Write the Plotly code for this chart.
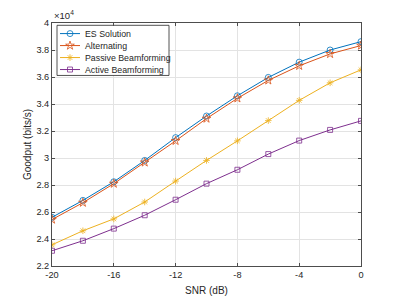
import plotly.graph_objects as go

snr = [-20, -18, -16, -14, -12, -10, -8, -6, -4, -2, 0]
es_solution = [2.561, 2.686, 2.824, 2.982, 3.151, 3.311, 3.461, 3.597, 3.71, 3.80, 3.862]
alternating = [2.544, 2.669, 2.81, 2.967, 3.127, 3.292, 3.442, 3.575, 3.683, 3.771, 3.833]
passive_bf = [2.357, 2.461, 2.549, 2.674, 2.829, 2.982, 3.127, 3.277, 3.427, 3.557, 3.653]
active_bf = [2.313, 2.387, 2.477, 2.576, 2.691, 2.810, 2.913, 3.029, 3.129, 3.208, 3.275]

series_names = ["ES Solution", "Alternating", "Passive Beamforming", "Active Beamforming"]
series_values = [es_solution, alternating, passive_bf, active_bf]

x_ticks = [-20, -16, -12, -8, -4, 0]
y_ticks = [2.2, 2.4, 2.6, 2.8, 3.0, 3.2, 3.4, 3.6, 3.8, 4.0]
y_tick_labels = ["2.2", "2.4", "2.6", "2.8", "3", "3.2", "3.4", "3.6", "3.8", "4"]

colors = ["#0072BD", "#D95319", "#EDB120", "#7E2F8E"]
symbols = ["circle-open", "star-open", "asterisk-open", "square-open"]
sizes = [6, 6.5, 5.5, 5]

# figure geometry (px); page body has an 8px margin, so compensate
W, H = 391, 291
L, R, T, B = 44, 38, 14.7, 33
PW, PH = W - L - R, H - T - B

font = "Liberation Sans, Arial, sans-serif"

fig = go.Figure()
for name, vals, color, sym, size in zip(series_names, series_values, colors, symbols, sizes):
    fig.add_trace(go.Scatter(
        x=snr, y=vals, name=name, mode="lines+markers",
        line=dict(color=color, width=1),
        marker=dict(symbol=sym, size=size, color=color, line=dict(color=color, width=0.8)),
        showlegend=False,
    ))

# custom compact legend, laid out in plot-pixel coordinates on an overlay axis pair
bx0, bx1, by0, by1 = 5, 117, 2.3, 52.5
fig.add_trace(go.Scatter(
    x=[bx0, bx1, bx1, bx0, bx0], y=[by0, by0, by1, by1, by0], mode="lines",
    fill="toself", fillcolor="white", line=dict(color="#262626", width=0.8),
    xaxis="x2", yaxis="y2", showlegend=False, hoverinfo="skip"))

row_gap = 12
row_first = 10.6
for i, (name, color, sym, size) in enumerate(zip(series_names, colors, symbols, sizes)):
    ry = row_first + i * row_gap
    fig.add_trace(go.Scatter(
        x=[8, 28], y=[ry, ry], mode="lines", line=dict(color=color, width=1),
        xaxis="x2", yaxis="y2", showlegend=False, hoverinfo="skip"))
    fig.add_trace(go.Scatter(
        x=[18], y=[ry], mode="markers",
        marker=dict(symbol=sym, size=size, color=color, line=dict(color=color, width=0.8)),
        xaxis="x2", yaxis="y2", showlegend=False, hoverinfo="skip"))
    fig.add_annotation(text=name, x=31 / PW, y=1 - ry / PH, xref="paper", yref="paper",
                       xanchor="left", yanchor="middle", showarrow=False,
                       font=dict(family=font, size=8.8, color="#262626"))

axis_common = dict(
    showline=True, linecolor="#4d4d4d", linewidth=1, mirror="ticks",
    ticks="inside", ticklen=3, tickcolor="#4d4d4d",
    showgrid=True, gridcolor="#E3E3E3", gridwidth=1, zeroline=False, automargin=False,
    tickfont=dict(family=font, size=9.2, color="#262626"),
)

fig.update_layout(
    width=W, height=H,
    margin=dict(l=L, r=R, t=T, b=B),
    paper_bgcolor="white", plot_bgcolor="white",
    showlegend=False,
    xaxis=dict(range=[-20, 0], tickvals=x_ticks, ticktext=[str(v) for v in x_ticks],
               title=dict(text="SNR (dB)", font=dict(family=font, size=10, color="#262626"), standoff=7),
               **axis_common),
    yaxis=dict(range=[2.2, 4.0], tickvals=y_ticks, ticktext=y_tick_labels,
               title=dict(text="Goodput (bits/s)", font=dict(family=font, size=10, color="#262626"), standoff=2),
               **axis_common),
    xaxis2=dict(overlaying="x", range=[0, PW], showgrid=False, zeroline=False, showline=False,
                showticklabels=False, ticks="", fixedrange=True),
    yaxis2=dict(overlaying="y", range=[PH, 0], showgrid=False, zeroline=False, showline=False,
                showticklabels=False, ticks="", fixedrange=True),
)

fig.add_annotation(text="×10<sup>4</sup>", xref="paper", yref="paper", x=0, y=1.0,
                   xanchor="left", yanchor="bottom", showarrow=False,
                   font=dict(family=font, size=9.5, color="#262626"))

fig.write_html("out.html")
